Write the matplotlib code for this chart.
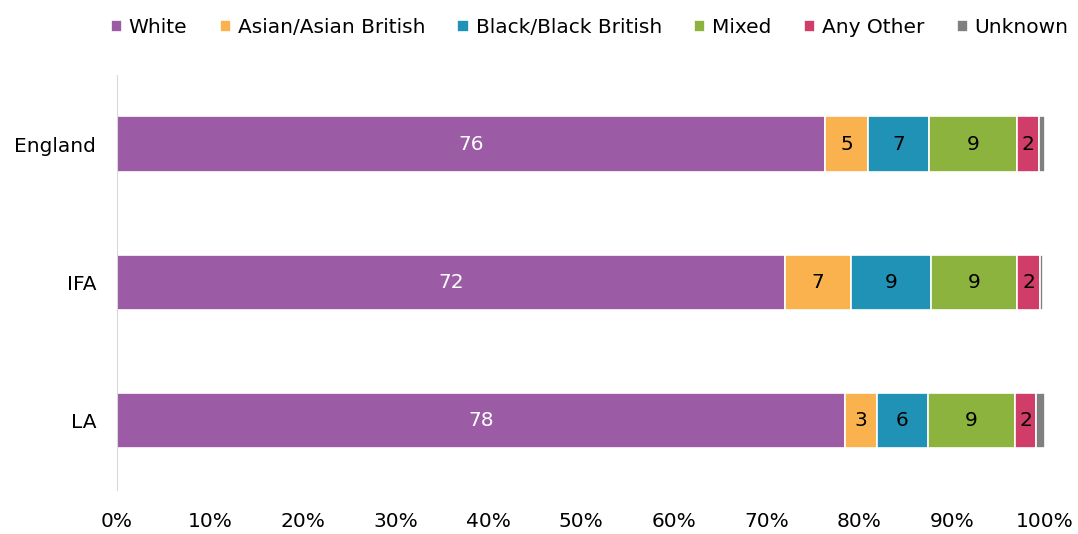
import numpy as np
import matplotlib.pyplot as plt
from matplotlib.ticker import PercentFormatter

categories = ["England", "IFA", "LA"]
groups = ["White", "Asian/Asian British", "Black/Black British", "Mixed", "Any Other", "Unknown"]
colors = ["#9B5BA5", "#F9B24D", "#2092B5", "#8BB33E", "#D13D69", "#808080"]

white = [76.3, 72.0, 78.4]
asian = [4.6, 7.1, 3.45]
black = [6.6, 8.6, 5.5]
mixed = [9.45, 9.3, 9.45]
other = [2.4, 2.45, 2.25]
unknown = [0.65, 0.3, 0.95]


def main():
    plt.rcParams["font.family"] = ["DejaVu Sans"]
    fig = plt.figure(figsize=(10.78, 5.34), dpi=100)
    ax = fig.add_axes([0.1085, 0.0824, 0.8609, 0.7772])

    series = [white, asian, black, mixed, other, unknown]
    y = np.arange(len(categories))
    left = np.zeros(len(categories))
    for name, vals, col in zip(groups, series, colors):
        vals = np.array(vals)
        bars = ax.barh(y, vals, left=left, height=0.4, color=col,
                       edgecolor="white", linewidth=1.2, label=name)
        if name != "Unknown":
            txt_col = "white" if name == "White" else "black"
            labels = [f"{v:.0f}" for v in vals]
            ax.bar_label(bars, labels=labels, label_type="center",
                         color=txt_col, fontsize=14.5)
        left += vals

    ax.set_xlim(0, 100)
    ax.set_ylim(2.5, -0.5)
    ax.set_yticks(y)
    ax.set_yticklabels(categories, fontsize=14.5)
    ax.set_xticks(np.arange(0, 101, 10))
    ax.xaxis.set_major_formatter(PercentFormatter(decimals=0))
    ax.tick_params(axis="x", labelsize=14.5, length=0, pad=16)
    ax.tick_params(axis="y", length=0, pad=15)
    for s in ["top", "right", "bottom"]:
        ax.spines[s].set_visible(False)
    ax.spines["left"].set_color("#d9d9d9")

    fig.legend(loc="center", bbox_to_anchor=(0.547, 0.948), ncol=6,
               frameon=False, fontsize=14.5, handlelength=0.55, handleheight=0.55,
               handletextpad=0.35, columnspacing=1.6)

    fig.savefig("out.png", dpi=100)


main()
